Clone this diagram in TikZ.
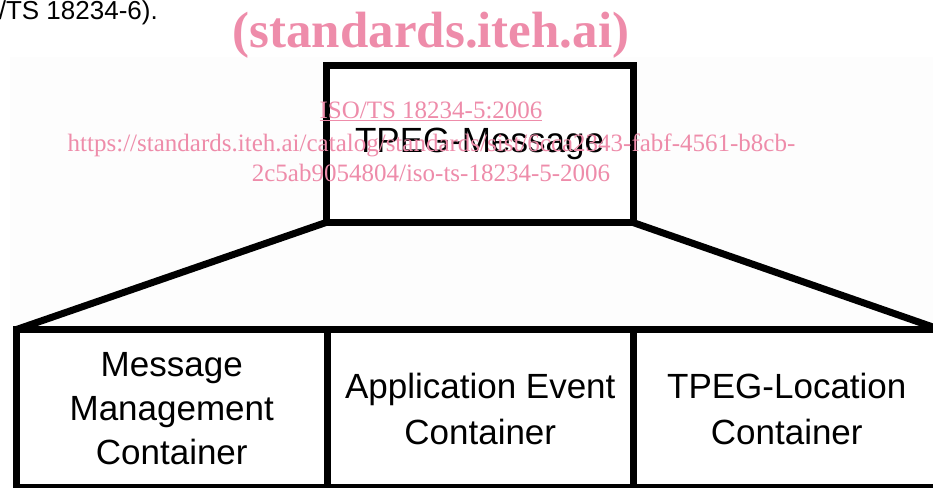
\documentclass[tikz,border=0pt]{standalone}
\usepackage{fontspec}
\setmainfont{Liberation Sans}
\newfontfamily\wmfont{Liberation Serif}
\definecolor{wmpink}{RGB}{238,140,170}
\definecolor{panelgray}{RGB}{253,253,253}
\begin{document}
\begin{tikzpicture}[x=1pt,y=-1pt,
  boxstyle/.style={draw=black,fill=white,line width=7pt,inner sep=0pt,outer sep=0pt,
    align=center,font=\fontsize{35}{45}\selectfont},
  linkstyle/.style={draw=black,line width=7pt,line cap=round},
  wm/.style={text=wmpink,inner sep=0pt,anchor=base}]
\useasboundingbox (0,0) rectangle (933,487);
\fill[panelgray] (10,57) rectangle (933,487);
% top-left clipped text
\node[anchor=base east,inner sep=0pt,font=\fontsize{26}{30}\selectfont] (ref) at (158,20) {/TS 18234-6).};
% boxes
\node[boxstyle,minimum width=307pt,minimum height=157pt] (msg) at (479.5,144) {TPEG-Message};
\node[boxstyle,minimum width=310.5pt,minimum height=158pt,font=\fontsize{35}{44}\selectfont] (mmc) at (171.75,408.5) {Message\\Management\\Container};
\node[boxstyle,minimum width=306.5pt,minimum height=158pt,font=\fontsize{35}{46}\selectfont] (aec) at (480.25,408.5) {Application Event\\Container};
\node[boxstyle,minimum width=306.5pt,minimum height=158pt,font=\fontsize{35}{46}\selectfont] (tlc) at (786.75,408.5) {TPEG-Location\\Container};
% connectors
\draw[linkstyle] (msg.south west) -- (mmc.north west);
\draw[linkstyle] (msg.south east) -- (tlc.north east);
% watermark
\node[wm,font=\wmfont\bfseries\fontsize{51}{60}\selectfont] (wm1) at (431,48) {(standards.iteh.ai)};
\node[wm,font=\wmfont\fontsize{25}{30}\selectfont] (wm2) at (431,118) {\underline{ISO/TS 18234-5:2006}};
\node[wm,font=\wmfont\fontsize{25}{30}\selectfont] (wm3) at (431.5,151) {https://standards.iteh.ai/catalog/standards/sist/6cca2343-fabf-4561-b8cb-};
\node[wm,font=\wmfont\fontsize{25}{30}\selectfont] (wm4) at (431,181) {2c5ab9054804/iso-ts-18234-5-2006};
\end{tikzpicture}
\end{document}
